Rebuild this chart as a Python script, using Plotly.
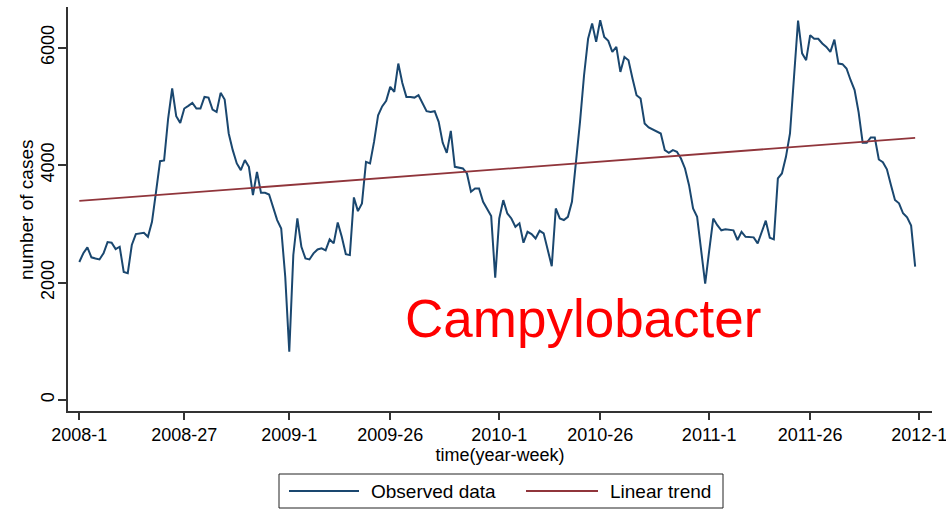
import plotly.graph_objects as go

# ---- data ----
week_index = list(range(208))  # 2008-1 ... 2011-52
observed = [
    2350, 2500, 2600, 2430, 2410, 2394, 2500, 2690, 2680, 2570,
    2610, 2180, 2160, 2640, 2825, 2840, 2848, 2780, 3035, 3546,
    4068, 4080, 4794, 5305, 4834, 4720, 4964, 5010, 5060, 4964,
    4964, 5162, 5150, 4947, 4907, 5231, 5117, 4539, 4255, 4029,
    3915, 4085, 3972, 3489, 3886, 3528, 3528, 3500, 3262, 3064,
    2922, 2100, 822, 2470, 3092, 2609, 2411, 2394, 2497, 2564,
    2582, 2548, 2735, 2667, 3024, 2780, 2485, 2468, 3450, 3217,
    3348, 4056, 4029, 4400, 4850, 5000, 5094, 5333, 5248, 5730,
    5400, 5162, 5160, 5150, 5191, 5050, 4919, 4907, 4919, 4737,
    4380, 4209, 4584, 3971, 3954, 3943, 3858, 3546, 3603, 3603,
    3375, 3245, 3132, 2082, 3092, 3404, 3177, 3092, 2950, 3009,
    2678, 2865, 2827, 2752, 2882, 2839, 2565, 2280, 3262, 3092,
    3065, 3120, 3375, 4029, 4737, 5531, 6152, 6412, 6099, 6468,
    6184, 6116, 5928, 6013, 5587, 5843, 5787, 5475, 5191, 5135,
    4709, 4641, 4610, 4570, 4539, 4255, 4209, 4255, 4229, 4113,
    3943, 3659, 3262, 3120, 2500, 1980, 2550, 3090, 2978, 2890,
    2907, 2900, 2890, 2725, 2865, 2780, 2780, 2770, 2667, 2849,
    3054, 2763, 2735, 3773, 3858, 4141, 4539, 5505, 6463, 5904,
    5787, 6213, 6152, 6152, 6071, 6013, 5928, 6138, 5730, 5720,
    5645, 5450, 5279, 4900, 4382, 4380, 4471, 4471, 4096, 4050,
    3929, 3661, 3406, 3350, 3180, 3110, 2970, 2270,
]
trend_weeks = [0, 207]
trend_values = [3390, 4465]

tick_weeks = [0, 26, 52, 77, 104, 129, 156, 181, 208]
tick_labels = ["2008-1", "2008-27", "2009-1", "2009-26", "2010-1",
               "2010-26", "2011-1", "2011-26", "2012-1"]
y_ticks = [0, 2000, 4000, 6000]

NAVY = "#1a476f"
MAROON = "#90353b"
AXIS = "#333333"
FONT = "Liberation Sans, Arial, sans-serif"

W, H = 946, 513
ML, MR, MT, MB = 68, 14, 7, 102
PW, PH = W - ML - MR, H - MT - MB


def px(xp):
    return (xp - ML) / PW


def py(yp):
    return (H - MB - yp) / PH


fig = go.Figure()
fig.add_trace(go.Scatter(x=week_index, y=observed, mode="lines",
                         line=dict(color=NAVY, width=2),
                         name="Observed data", showlegend=False))
fig.add_trace(go.Scatter(x=trend_weeks, y=trend_values, mode="lines",
                         line=dict(color=MAROON, width=1.8),
                         name="Linear trend", showlegend=False))

# manual legend (Stata style box)
shapes = [
    dict(type="rect", xref="paper", yref="paper",
         x0=px(279), x1=px(723), y0=py(508), y1=py(474),
         line=dict(color="#222222", width=1), fillcolor="white"),
    dict(type="line", xref="paper", yref="paper",
         x0=px(289), x1=px(359), y0=py(491), y1=py(491),
         line=dict(color=NAVY, width=2)),
    dict(type="line", xref="paper", yref="paper",
         x0=px(526), x1=px(598), y0=py(491), y1=py(491),
         line=dict(color=MAROON, width=2)),
]
annotations = [
    dict(text="Observed data", xref="paper", yref="paper",
         x=px(369), y=py(491), xanchor="left", yanchor="middle",
         showarrow=False, font=dict(family=FONT, size=19, color="black")),
    dict(text="Linear trend", xref="paper", yref="paper",
         x=px(608), y=py(491), xanchor="left", yanchor="middle",
         showarrow=False, font=dict(family=FONT, size=19, color="black")),
    dict(text="Campylobacter", xref="paper", yref="paper",
         x=px(583), y=py(318), xanchor="center", yanchor="middle",
         showarrow=False, font=dict(family=FONT, size=53, color="#ff0000")),
    dict(text="number of cases", xref="paper", yref="paper",
         x=px(26), y=py(210), xanchor="center", yanchor="middle",
         textangle=-90, showarrow=False,
         font=dict(family=FONT, size=19, color="black")),
]

fig.update_layout(
    width=W, height=H, autosize=False,
    margin=dict(l=ML, r=MR, t=MT, b=MB, pad=0, autoexpand=False),
    paper_bgcolor="white", plot_bgcolor="white",
    font=dict(family=FONT, size=18, color="black"),
    showlegend=False,
    shapes=shapes, annotations=annotations,
    xaxis=dict(
        range=[-2.8, 211.17], tickmode="array",
        tickvals=tick_weeks, ticktext=tick_labels,
        ticks="outside", ticklen=7, tickwidth=1.5, tickcolor=AXIS,
        showline=True, linecolor=AXIS, linewidth=1.5,
        showgrid=False, zeroline=False, automargin=False,
        ticklabeloverflow="allow",
        tickfont=dict(family=FONT, size=18, color="black"),
        title=dict(text="time(year-week)", standoff=4,
                   font=dict(family=FONT, size=18, color="black")),
    ),
    yaxis=dict(
        range=[-187, 6693], tickmode="array", tickvals=y_ticks,
        tickangle=-90, ticklabelstandoff=-3,
        ticks="outside", ticklen=8, tickwidth=1.5, tickcolor=AXIS,
        showline=True, linecolor=AXIS, linewidth=1.5,
        showgrid=False, zeroline=False, automargin=False,
        tickfont=dict(family=FONT, size=18, color="black"),
    ),
)

fig.write_html("out.html",
               config={"displayModeBar": False},
               post_script="document.body.style.margin='0px';")
